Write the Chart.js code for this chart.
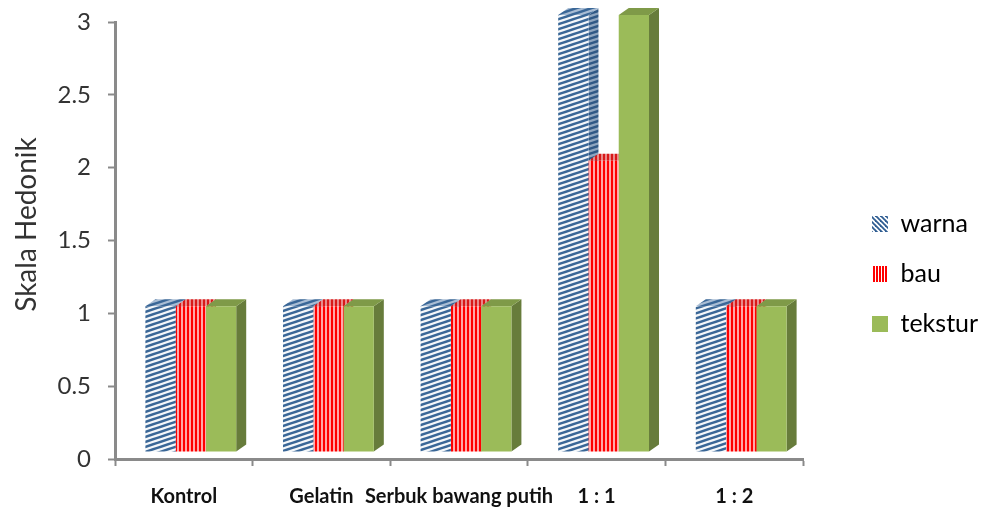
<!DOCTYPE html>
<html>
<head>
<meta charset="utf-8">
<title>Skala Hedonik</title>
<script src="https://cdn.jsdelivr.net/npm/chart.js@4"></script>
<style>
    html, body { margin: 0; padding: 0; background: #fff; }
    #wrap { width: 982px; height: 508px; }
</style>
</head>
<body>
<div id="wrap"><canvas id="hedonikChart" width="982" height="508"></canvas></div>
<script>
const categories = ['Kontrol', 'Gelatin', 'Serbuk bawang putih', '1 : 1', '1 : 2'];
const warna = [1, 1, 1, 3, 1];
const bau = [1, 1, 1, 2, 1];
const tekstur = [1, 1, 1, 3, 1];
const yTicks = [0, 0.5, 1, 1.5, 2, 2.5, 3];

const AXIS_GREY = '#8a8a8a';
const TEXT_GREY = '#333333';
const FONT = 'Lato, "Open Sans", sans-serif';

// Fake 3D: the front faces are pushed right/up, the sides and tops fill the gap
const DEPTH_X = 10;
const DEPTH_Y = 7;
const SHIFT_X = 7;
const SHIFT_Y = -7;

function makeTile(w, h, background, paint) {
    const tile = document.createElement('canvas');
    tile.width = w;
    tile.height = h;
    const c = tile.getContext('2d');
    c.fillStyle = background;
    c.fillRect(0, 0, w, h);
    paint(c);
    return c.createPattern(tile, 'repeat');
}

// shallow diagonal hatch for the bars, rising to the right
function hatch(color, background) {
    const w = 15, h = 5;
    return makeTile(w, h, background, c => {
        c.strokeStyle = color;
        c.lineWidth = 2.6;
        for (let i = -2; i <= 2; i++) {
            c.beginPath();
            c.moveTo(-w, h * 2 + i * h);
            c.lineTo(w * 2, -h + i * h);
            c.stroke();
        }
    });
}

// steep hatch used only in the legend key
function legendHatch(color) {
    return makeTile(5, 5, '#ffffff', c => {
        c.strokeStyle = color;
        c.lineWidth = 1.8;
        for (let i = -1; i <= 1; i++) {
            c.beginPath();
            c.moveTo(i * 5 - 1, -1);
            c.lineTo(i * 5 + 6, 6);
            c.stroke();
        }
    });
}

function stripes(color, background, period, lineW) {
    return makeTile(period, 4, background, c => {
        c.fillStyle = color;
        c.fillRect(0, 0, lineW, 4);
    });
}

const faces = [
    { front: hatch('#3a6797', '#f4f7fa'), top: hatch('#3a6797', '#a9bdd4'), side: hatch('#2f5885', '#8fa6c0'),
      key: legendHatch('#2f5d92') },
    { front: stripes('#ff0000', '#ffa8a8', 4, 2), top: stripes('#d81818', '#e88a8a', 4, 2), side: stripes('#c00000', '#d07070', 4, 2),
      key: stripes('#ff0000', '#ffffff', 3, 2) },
    { front: '#9bbb59', top: '#7f9a48', side: '#677c3b', key: '#9bbb59' }
];

function polygon(ctx, points, fill) {
    ctx.fillStyle = fill;
    ctx.beginPath();
    points.forEach((p, i) => i ? ctx.lineTo(p[0], p[1]) : ctx.moveTo(p[0], p[1]));
    ctx.closePath();
    ctx.fill();
}

// Sides and tops go in first, warna to tekstur, so each series hides the one before it
const boxes3d = {
    id: 'boxes3d',
    beforeDatasetsDraw(chart) {
        const ctx = chart.ctx;
        ctx.save();
        ctx.translate(SHIFT_X, SHIFT_Y);
        chart.getSortedVisibleDatasetMetas().forEach(meta => {
            const look = faces[meta.index];
            meta.data.forEach(bar => {
                const left = bar.x - bar.width / 2;
                const right = bar.x + bar.width / 2;
                polygon(ctx, [[right, bar.y], [right + DEPTH_X, bar.y - DEPTH_Y],
                    [right + DEPTH_X, bar.base - DEPTH_Y], [right, bar.base]], look.side);
                polygon(ctx, [[left, bar.y], [left + DEPTH_X, bar.y - DEPTH_Y],
                    [right + DEPTH_X, bar.y - DEPTH_Y], [right, bar.y]], look.top);
            });
        });
    },
    afterDatasetsDraw(chart) {
        chart.ctx.restore();
    }
};

// Keeps the plot clear of the wide right margin, with the key sitting far right
const legendMargin = {
    id: 'legendMargin',
    beforeLayout(chart) {
        const legend = chart.legend;
        if (legend && !legend.widened) {
            const fit = legend.fit;
            legend.fit = function () {
                fit.call(this);
                this.width = 179;
            };
            legend.widened = true;
        }
    },
    afterLayout(chart) {
        chart.legend.left += 44;
        chart.legend.top += 18;
        // axis title sits above the middle of the axis
        const yScale = chart.scales.y;
        const drawTitle = yScale.drawTitle;
        yScale.drawTitle = function () {
            this.ctx.save();
            this.ctx.translate(10, -16);
            drawTitle.call(this);
            this.ctx.restore();
        };
    }
};

new Chart(document.getElementById('hedonikChart'), {
    type: 'bar',
    plugins: [boxes3d, legendMargin],
    data: {
        labels: categories,
        datasets: [
            { label: 'warna', data: warna, backgroundColor: faces[0].front, clip: false },
            { label: 'bau', data: bau, backgroundColor: faces[1].front, clip: false },
            { label: 'tekstur', data: tekstur, backgroundColor: faces[2].front, clip: false }
        ]
    },
    options: {
        responsive: false,
        animation: false,
        layout: { padding: { top: 22 } },
        categoryPercentage: 0.66,
        barPercentage: 1,
        plugins: {
            title: { display: false },
            tooltip: { enabled: false },
            legend: {
                position: 'right',
                labels: {
                    boxWidth: 16,
                    boxHeight: 16,
                    padding: 25,
                    color: TEXT_GREY,
                    font: { family: FONT, size: 25 },
                    generateLabels(chart) {
                        return chart.data.datasets.map((ds, i) => ({
                            text: ds.label,
                            fillStyle: faces[i].key,
                            strokeStyle: 'transparent',
                            lineWidth: 0,
                            datasetIndex: i
                        }));
                    }
                }
            }
        },
        scales: {
            x: {
                offset: true,
                afterFit(scale) { scale.height = 49; },
                border: { color: AXIS_GREY, width: 3 },
                grid: {
                    offset: true,
                    drawOnChartArea: false,
                    drawTicks: true,
                    tickLength: 7,
                    tickColor: AXIS_GREY,
                    tickWidth: 2
                },
                ticks: {
                    padding: 19,
                    maxRotation: 0,
                    autoSkip: false,
                    color: '#111111',
                    font: { family: FONT, size: 20, weight: 'bold' }
                }
            },
            y: {
                min: 0,
                max: 3,
                afterFit(scale) {
                    scale.width = 115;
                    scale.paddingTop = 0;
                    scale.paddingBottom = 0;
                },
                afterBuildTicks(scale) { scale.ticks = yTicks.map(v => ({ value: v })); },
                border: { color: AXIS_GREY, width: 3 },
                grid: {
                    drawOnChartArea: false,
                    drawTicks: true,
                    tickLength: 7,
                    tickColor: AXIS_GREY,
                    tickWidth: 2
                },
                ticks: {
                    padding: 17,
                    color: TEXT_GREY,
                    font: { family: FONT, size: 24 },
                    callback: value => String(value)
                },
                title: {
                    display: true,
                    text: 'Skala Hedonik',
                    color: TEXT_GREY,
                    font: { family: FONT, size: 28 },
                    padding: { top: 0, bottom: 0 }
                }
            }
        }
    }
});
</script>
</body>
</html>
